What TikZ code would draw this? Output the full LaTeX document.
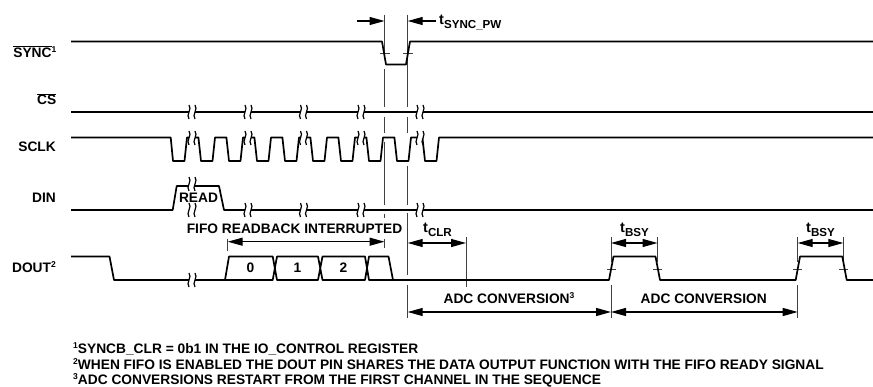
\documentclass[tikz,border=0pt]{standalone}
\usepackage{fontspec}
\setmainfont{Liberation Sans}
\usetikzlibrary{arrows.meta}
\newcommand{\tsub}[1]{{\fontsize{14.5}{14.5}\selectfont t}\raisebox{-4pt}{\fontsize{11.6}{13}\selectfont #1}}
\newcommand{\sups}[1]{\raisebox{5pt}{\fontsize{8.5}{9}\selectfont #1}}
\tikzset{
  x=1pt,y=-1pt,
  sig/.style={line width=1.7pt,line join=round,black},
  guide/.style={line width=0.8pt,black!75},
  dim/.style={line width=1.2pt,black,{Triangle[length=15pt,width=8pt]}-{Triangle[length=15pt,width=8pt]}},
  dimR/.style={line width=1.2pt,black,-{Triangle[length=15pt,width=8pt]}},
  lbl/.style={inner sep=0pt,font=\fontsize{13.75}{15}\bfseries\selectfont},
  brk/.pic={
    \fill[white] (-3,-7) .. controls (0.5,-3) and (-6.5,3) .. (-3,7) -- (3,7) .. controls (-0.5,3) and (6.5,-3) .. (3,-7) -- cycle;
    \draw[line width=1.2pt] (-3,-7) .. controls (0.5,-3) and (-6.5,3) .. (-3,7);
    \draw[line width=1.2pt] (3,-7) .. controls (6.5,-3) and (-0.5,3) .. (3,7);
  }
}
\begin{document}
\begin{tikzpicture}
\useasboundingbox (0,0) rectangle (873,387);
% guides
\draw[guide] (384.5,15) -- (384.5,55) (384.5,69) -- (384.5,107) (384.5,117) -- (384.5,133) (384.5,142) -- (384.5,205) (384.5,214) -- (384.5,218) (384.5,239) -- (384.5,248);
\draw[guide] (407.7,15) -- (407.7,107) (407.7,117) -- (407.7,133) (407.7,166) -- (407.7,205) (407.7,213) -- (407.7,275) (407.7,285) -- (407.7,318);
\draw[guide] (227.7,239) -- (227.7,251);
\draw[guide] (466,237) -- (466,287);
\draw[guide] (611,237) -- (611,262) (611,285) -- (611,318);
\draw[guide] (657.5,237) -- (657.5,262);
\draw[guide] (797.7,237) -- (797.7,262) (797.7,285) -- (797.7,318);
\draw[guide] (843.3,237) -- (843.3,262);
% threshold ticks
\draw[guide] (380,53) -- (389.5,53) (403,53) -- (413,53);
\draw[guide] (607,269) -- (616,269) (653,269) -- (662,269) (793,269) -- (802,269) (838.5,269) -- (848,269);
% SYNC
\draw[sig] (71,41.5) -- (382,41.5) -- (386,64.5) -- (406,64.5) -- (410,41.5) -- (873,41.5);
% CS
\draw[sig] (71,112) -- (873,112);
% SCLK
\draw[sig] (71,137.5) -- (170.7,137.5)
  foreach \s in {173,201,229,257,285,313,341,369,397} {
    -- (\s,161) -- (\s+11.5,161) -- (\s+14,137.5) -- (\s+25.4,137.5)
  } -- (425,161) -- (436.5,161) -- (439,137.5) -- (873,137.5);
% DIN
\draw[sig] (71,210) -- (172.7,210) -- (176.7,186) -- (219,186) -- (224,210) -- (873,210);
% DOUT
\draw[sig] (71,256.5) -- (109.5,256.5) -- (114,280) -- (225,280) -- (229,256.5) -- (272.7,256.5) -- (277,280) -- (318,280) -- (322.5,256.5) -- (365,256.5) -- (369,280) -- (393,280) -- (388.5,256.5) -- (369,256.5) -- (365,280) -- (322.5,280) -- (318,256.5) -- (277,256.5) -- (272.7,280) -- (225,280);
\draw[sig] (393,280) -- (609,280) -- (613.5,256.5) -- (655.5,256.5) -- (660,280) -- (795.7,280) -- (800,256.5) -- (842.3,256.5) -- (846.7,280) -- (873,280);
% breaks
\foreach \x in {192,248,303.5,361,420} { \pic at (\x,112) {brk}; \pic at (\x,138) {brk}; }
\foreach \x in {248,303.5,361,420} { \pic at (\x,210) {brk}; }
\pic at (192,184) {brk};
\pic at (192,210) {brk};
\pic at (192,280) {brk};
% dimension arrows
\coordinate (a1) at (357,21); \coordinate (a2) at (384.5,21);
\coordinate (a3) at (436,21); \coordinate (a4) at (407.7,21);
\draw[dimR] (a1) -- (a2);
\draw[dimR] (a3) -- (a4);
\coordinate (f1) at (227.7,241.7); \coordinate (f2) at (384.5,241.7);
\draw[dim] (f1) -- (f2);
\coordinate (c1) at (407.7,243); \coordinate (c2) at (466,243);
\draw[dim] (c1) -- (c2);
\coordinate (b1) at (611,243); \coordinate (b2) at (657.5,243);
\draw[dim] (b1) -- (b2);
\coordinate (b3) at (797.7,243); \coordinate (b4) at (843.3,243);
\draw[dim] (b3) -- (b4);
\coordinate (d1) at (407.7,312); \coordinate (d2) at (611,312);
\draw[dim] (d1) -- (d2);
\coordinate (d3) at (611,312); \coordinate (d4) at (797.7,312);
\draw[dim] (d3) -- (d4);
% signal labels
\node[lbl,anchor=base east] (lsync) at (56.5,57.5) {$\overline{\hbox{SYNC}}$\sups{1}};
\node[lbl,anchor=base east] (lcs) at (56.5,105) {$\overline{\hbox{CS}}$};
\node[lbl,anchor=base east] (lsclk) at (56,152) {SCLK};
\node[lbl,anchor=base east] (ldin) at (56,203) {DIN};
\node[lbl,anchor=base east] (ldout) at (56,273) {DOUT\sups{2}};
% other labels
\node[lbl,anchor=base west] (tsync) at (439,25) {\tsub{SYNC\_PW}};
\node[lbl,anchor=base] (read) at (198.5,203) {READ};
\node[lbl,anchor=base] (fifo) at (294.5,234) {FIFO READBACK INTERRUPTED};
\node[lbl,anchor=base] (n0) at (250.5,273) {0};
\node[lbl,anchor=base] (n1) at (297.5,273) {1};
\node[lbl,anchor=base] (n2) at (343.5,273) {2};
\node[lbl,anchor=base west] (tclr) at (423,232.7) {\tsub{CLR}};
\node[lbl,anchor=base west] (tbsy1) at (620,232.7) {\tsub{BSY}};
\node[lbl,anchor=base west] (tbsy2) at (806,232.7) {\tsub{BSY}};
\node[lbl,anchor=base] (adc1) at (509,304) {ADC CONVERSION\sups{3}};
\node[lbl,anchor=base] (adc2) at (703.7,304) {ADC CONVERSION};
% notes
\node[lbl,anchor=base west] (fn1) at (73,353.5) {\sups{1}SYNCB\_CLR = 0b1 IN THE IO\_CONTROL REGISTER};
\node[lbl,anchor=base west] (fn2) at (73,369.5) {\sups{2}WHEN FIFO IS ENABLED THE DOUT PIN SHARES THE DATA OUTPUT FUNCTION WITH THE FIFO READY SIGNAL};
\node[lbl,anchor=base west] (fn3) at (73,384.5) {\sups{3}ADC CONVERSIONS RESTART FROM THE FIRST CHANNEL IN THE SEQUENCE};
\end{tikzpicture}
\end{document}
